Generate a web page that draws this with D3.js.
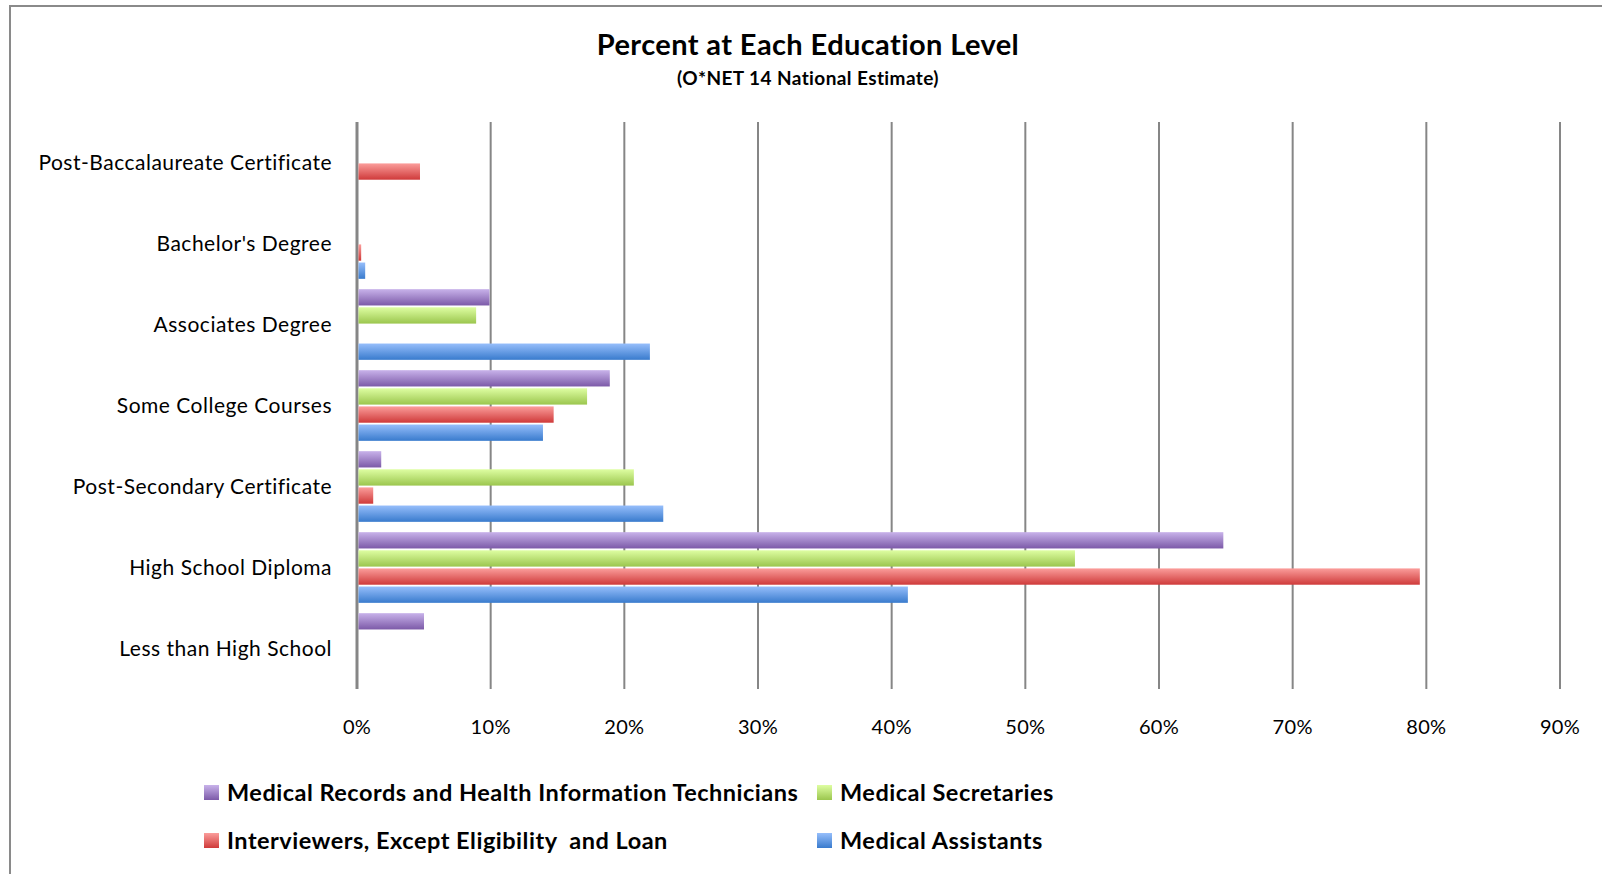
<!DOCTYPE html>
<html>
<head>
<meta charset="utf-8">
<script src="https://cdn.jsdelivr.net/npm/d3@7"></script>
<style>
	body { margin: 0; background: #fff; }
	svg { display: block; font-family: Lato, "Open Sans", sans-serif; }
</style>
</head>
<body>
<svg width="1602" height="874"></svg>
<script>
// categories, top to bottom as drawn
var categories = ["Post-Baccalaureate Certificate", "Bachelor's Degree", "Associates Degree",
	"Some College Courses", "Post-Secondary Certificate", "High School Diploma", "Less than High School"];

// percent values per series, same order as categories
var medicalRecords     = [0, 0, 9.8, 18.8, 1.7, 64.7, 4.9];
var medicalSecretaries = [0, 0, 8.8, 17.1, 20.6, 53.6, 0];
var interviewers       = [4.6, 0.2, 0, 14.6, 1.1, 79.4, 0];
var medicalAssistants  = [0, 0.5, 21.8, 13.8, 22.8, 41.1, 0];

var seriesNames = ["Medical Records and Health Information Technicians", "Medical Secretaries",
	"Interviewers, Except Eligibility  and Loan", "Medical Assistants"];
var ticks = [0, 10, 20, 30, 40, 50, 60, 70, 80, 90];

var series = [
	{name: seriesNames[0], values: medicalRecords,     top: "#c8b2ea", bottom: "#7c5aa8"},
	{name: seriesNames[1], values: medicalSecretaries, top: "#defea2", bottom: "#9bc64e"},
	{name: seriesNames[2], values: interviewers,       top: "#fb9d9b", bottom: "#cf3a3a"},
	{name: seriesNames[3], values: medicalAssistants,  top: "#96befb", bottom: "#397bcd"}
];

var svg = d3.select("svg");
var defs = svg.append("defs");

series.forEach(function (s, i) {
	var grad = defs.append("linearGradient")
		.attr("id", "grad" + i)
		.attr("x1", 0).attr("y1", 0).attr("x2", 0).attr("y2", 1);
	grad.append("stop").attr("offset", "0%").attr("stop-color", s.top);
	grad.append("stop").attr("offset", "100%").attr("stop-color", s.bottom);
});

// outer frame
svg.append("rect")
	.attr("x", 10).attr("y", 6)
	.attr("width", 1640).attr("height", 920)
	.attr("fill", "none")
	.attr("stroke", "#8a8a8a")
	.attr("stroke-width", 2);

var x = d3.scaleLinear().domain([0, 90]).range([357, 1560]);
var y = d3.scaleBand().domain(categories).range([122, 689]).paddingInner(0.105).paddingOuter(0.0525);
var ySub = d3.scaleBand().domain(d3.range(series.length)).range([0, y.bandwidth()]).paddingInner(0.1).paddingOuter(0.05);

// gridlines
svg.append("g").selectAll("line")
	.data(ticks)
	.enter().append("line")
	.attr("x1", function (d) { return x(d); })
	.attr("x2", function (d) { return x(d); })
	.attr("y1", 122).attr("y2", 689)
	.attr("stroke", "#868686")
	.attr("stroke-width", function (d) { return d === 0 ? 3 : 2; });

// bars
series.forEach(function (s, i) {
	svg.append("g").selectAll("rect")
		.data(s.values.map(function (v, j) { return {cat: categories[j], value: v}; }).filter(function (d) { return d.value > 0; }))
		.enter().append("rect")
		.attr("x", x(0) + 1.5)
		.attr("y", function (d) { return y(d.cat) + ySub(i); })
		.attr("width", function (d) { return x(d.value) - x(0); })
		.attr("height", ySub.bandwidth())
		.attr("fill", "url(#grad" + i + ")");
});

// category labels
svg.append("g").selectAll("text")
	.data(categories)
	.enter().append("text")
	.attr("x", 332)
	.attr("y", function (d) { return y(d) + y.bandwidth() / 2; })
	.attr("dy", "0.35em")
	.attr("text-anchor", "end")
	.attr("font-size", 21)
	.attr("letter-spacing", 0.5)
	.attr("fill", "#000")
	.text(function (d) { return d; });

// x tick labels
svg.append("g").selectAll("text")
	.data(ticks)
	.enter().append("text")
	.attr("x", function (d) { return x(d); })
	.attr("y", 727)
	.attr("dy", "0.35em")
	.attr("text-anchor", "middle")
	.attr("font-size", 20)
	.attr("letter-spacing", 0.3)
	.text(function (d) { return d + "%"; });

// titles
svg.append("text")
	.attr("x", 808).attr("y", 45).attr("dy", "0.35em")
	.attr("text-anchor", "middle")
	.attr("font-size", 29).attr("font-weight", "bold")
	.attr("letter-spacing", 0.4)
	.text("Percent at Each Education Level");

svg.append("text")
	.attr("x", 808).attr("y", 78).attr("dy", "0.35em")
	.attr("text-anchor", "middle")
	.attr("font-size", 19).attr("font-weight", "bold")
	.attr("letter-spacing", 0.4)
	.text("(O*NET 14 National Estimate)");

// legend
var legendPos = [[204, 793], [817, 793], [204, 841], [817, 841]];
var legend = svg.append("g").selectAll("g")
	.data(series)
	.enter().append("g")
	.attr("transform", function (d, i) { return "translate(" + legendPos[i][0] + "," + legendPos[i][1] + ")"; });

legend.append("rect")
	.attr("x", 0).attr("y", -8)
	.attr("width", 15).attr("height", 15)
	.attr("fill", function (d, i) { return "url(#grad" + i + ")"; });

legend.append("text")
	.attr("x", 23).attr("y", 0).attr("dy", "0.35em")
	.attr("font-size", 23.5).attr("font-weight", "bold")
	.attr("letter-spacing", 0.5)
	.style("white-space", "pre")
	.text(function (d) { return d.name; });
</script>
</body>
</html>
